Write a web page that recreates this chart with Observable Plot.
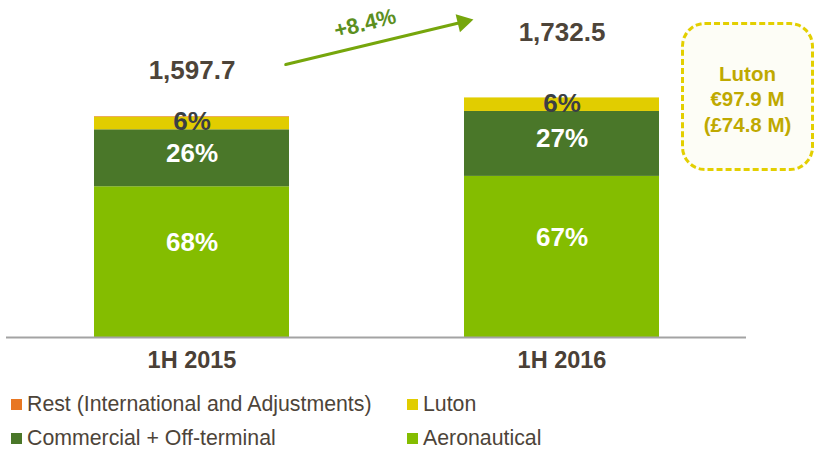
<!DOCTYPE html>
<html><head><meta charset="utf-8">
<script src="https://cdn.jsdelivr.net/npm/d3@7"></script>
<script src="https://cdn.jsdelivr.net/npm/@observablehq/plot@0.6"></script>
<style>
body{margin:0;background:#fff;font-family:"Liberation Sans",Arial,sans-serif;}
#wrap{position:relative;width:817px;height:451px;overflow:hidden;}
#note{position:absolute;left:681px;top:22px;width:133px;height:149px;box-sizing:border-box;border:3.5px dashed #e3cf00;border-radius:24px;background:#fdfdf6;display:flex;flex-direction:column;align-items:center;justify-content:center;padding-top:5px;color:#bfa900;font-weight:bold;font-size:20.5px;line-height:25.5px;text-align:center;}
#legend{position:absolute;left:0;top:385px;width:817px;height:66px;color:#4d4439;font-size:21.3px;}
.li{position:absolute;display:flex;align-items:center;height:24px;white-space:nowrap;}
.sw{width:11px;height:11px;margin-right:5px;flex:none;}
</style></head><body><div id="wrap"></div>
<script>
const categories = ["1H 2015", "1H 2016"];
const totals = [1597.7, 1732.5];
const series = ["Aeronautical", "Commercial + Off-terminal", "Luton", "Rest (International and Adjustments)"];
const aeronautical = [1090.0, 1165.0];
const commercial = [412.0, 469.6];
const luton = [91.7, 97.9];
const rest = [4.0, 0.0];
const pctAeronautical = ["68%", "67%"];
const pctCommercial = ["26%", "27%"];
const pctLuton = ["6%", "6%"];
const totalLabels = ["1,597.7", "1,732.5"];
const growthLabel = "+8.4%";
const lutonNote = ["Luton", "€97.9 M", "(£74.8 M)"];
const legendOrder = ["Rest (International and Adjustments)", "Luton", "Commercial + Off-terminal", "Aeronautical"];
const colors = ["#84bd00", "#4a7729", "#e1cd00", "#e87722"];

const rows = categories.flatMap((c, i) => [
  {category: c, series: series[0], value: aeronautical[i]},
  {category: c, series: series[1], value: commercial[i]},
  {category: c, series: series[2], value: luton[i]},
  {category: c, series: series[3], value: rest[i]}
]);
const mids = categories.map((c, i) => ({
  category: c,
  aero: aeronautical[i] / 2,
  comm: aeronautical[i] + commercial[i] / 2,
  lut: aeronautical[i] + commercial[i] + luton[i] / 2,
  total: totals[i]
}));

const W = 817, H = 385;
const chart = Plot.plot({
  width: W, height: H,
  marginTop: 0, marginBottom: 48, marginLeft: 6, marginRight: 71,
  style: {fontFamily: "'Liberation Sans', Arial, sans-serif", background: "transparent", overflow: "visible"},
  x: {domain: categories, range: [94.3, 659], paddingInner: 0.474, paddingOuter: 0, axis: null},
  y: {domain: [0, 2437], axis: null},
  color: {domain: series, range: colors},
  marks: [
    Plot.barY(rows, {x: "category", y: "value", fill: "series", order: series}),
    Plot.ruleY([0], {stroke: "#a3a3a3", strokeWidth: 2}),
    Plot.text(mids, {x: "category", y: "aero", text: (d, i) => pctAeronautical[i], dy: -19, fill: "#ffffff", fontSize: 26, fontWeight: "bold"}),
    Plot.text(mids, {x: "category", y: "comm", text: (d, i) => pctCommercial[i], dy: -5, fill: "#ffffff", fontSize: 26, fontWeight: "bold"}),
    Plot.text(mids, {x: "category", y: "lut", text: (d, i) => pctLuton[i], dy: -1.5, fill: "#3b3f44", fontSize: 26, fontWeight: "bold"}),
    Plot.text([mids[0]], {x: "category", y: "total", text: () => totalLabels[0], dy: -46, fill: "#4d4439", fontSize: 26, fontWeight: "bold"}),
    Plot.text([mids[1]], {x: "category", y: "total", text: () => totalLabels[1], dy: -65, fill: "#4d4439", fontSize: 26, fontWeight: "bold"}),
    Plot.text(categories, {x: d => d, frameAnchor: "bottom", dy: 30, fill: "#4a4036", fontSize: 23.5, fontWeight: "bold"}),
    // growth arrow (annotation between the two totals)
    Plot.arrow([{a: categories[0], b: categories[1], y1: 1811, y2: 2454}], {x1: "a", x2: "b", y1: "y1", y2: "y2", stroke: "#76a60c", strokeWidth: 3, headLength: 0, insetStart: 96.4, insetEnd: 103}),
    Plot.dot([{c: categories[1], y: 2281}], {x: "c", y: "y", dx: -99, symbol: "triangle", r: 6.9, rotate: 76.5, fill: "#76a60c", stroke: "none"}),
    Plot.text([{c: categories[0], y: 2270}], {x: "c", y: "y", dx: 173, text: () => growthLabel, rotate: -14, fill: "#5c8f1f", fontSize: 22, fontWeight: "bold"})
  ]
});
const wrap = document.getElementById("wrap");
wrap.appendChild(chart);

const note = document.createElement("div");
note.id = "note";
note.innerHTML = lutonNote.map(t => `<div>${t}</div>`).join("");
wrap.appendChild(note);

const legend = document.createElement("div");
legend.id = "legend";
const pos = [[11, 7], [407, 7], [11, 41], [407, 41]];
legendOrder.forEach((s, k) => {
  const it = document.createElement("div");
  it.className = "li";
  it.style.left = pos[k][0] + "px";
  it.style.top = pos[k][1] + "px";
  const sw = document.createElement("span");
  sw.className = "sw";
  sw.style.background = colors[series.indexOf(s)];
  const tx = document.createElement("span");
  tx.textContent = s;
  it.appendChild(sw); it.appendChild(tx);
  legend.appendChild(it);
});
wrap.appendChild(legend);
</script></body></html>
